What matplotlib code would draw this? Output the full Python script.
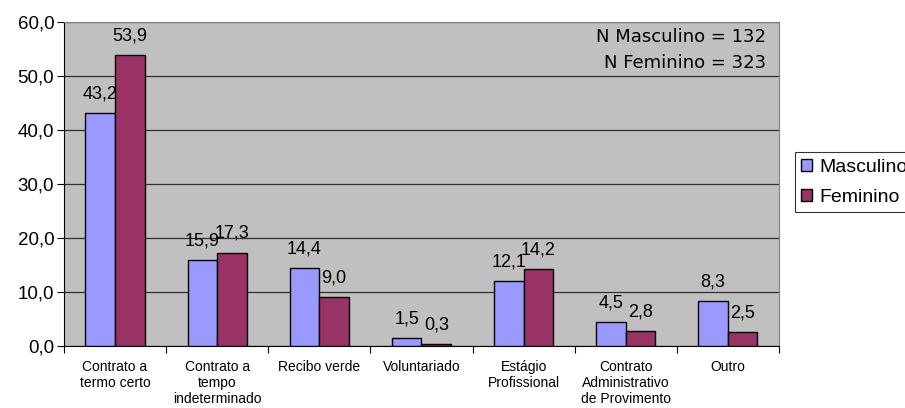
import matplotlib
matplotlib.use("Agg")
import matplotlib.pyplot as plt
import numpy as np

plt.rcParams['font.family'] = ['Liberation Sans', 'DejaVu Sans']

categories = ["Contrato a\ntermo certo", "Contrato a\ntempo\nindeterminado", "Recibo verde",
              "Voluntariado", "Estágio\nProfissional", "Contrato\nAdministrativo\nde Provimento", "Outro"]
masculino = [43.2, 15.9, 14.4, 1.5, 12.1, 4.5, 8.3]
feminino = [53.9, 17.3, 9.0, 0.3, 14.2, 2.8, 2.5]
yticks = [0, 10, 20, 30, 40, 50, 60]

fig = plt.figure(figsize=(9.05, 4.08), dpi=100)
ax = fig.add_axes([0.0707, 0.152, 0.79, 0.794])
ax.set_facecolor('#c0c0c0')

x = np.arange(len(categories))
w = 0.29
b1 = ax.bar(x - w/2, masculino, w, color='#9999ff', edgecolor='black', linewidth=1, label='Masculino', zorder=3)
b2 = ax.bar(x + w/2, feminino, w, color='#993366', edgecolor='black', linewidth=1, label='Feminino', zorder=3)

for bars, vals in ((b1, masculino), (b2, feminino)):
    for r, v in zip(bars, vals):
        ax.annotate(f"{v:.1f}".replace('.', ','), (r.get_x() + r.get_width()/2, v),
                    xytext=(0, 10.5), textcoords='offset points', ha='center', va='baseline',
                    fontsize=13, zorder=4)

ax.set_xlim(-0.5, len(categories) - 0.5)
ax.set_ylim(0, 60)
ax.set_yticks(yticks)
ax.set_yticklabels([f"{t:.1f}".replace('.', ',') for t in yticks], fontsize=13.5)
ax.yaxis.grid(True, color='#303030', linewidth=0.9, zorder=1)
ax.set_axisbelow(True)

ax.set_xticks(np.arange(len(categories) + 1) - 0.5, minor=False)
ax.set_xticklabels([''] * (len(categories) + 1))
ax.set_xticks(x, minor=True)
ax.set_xticklabels(categories, minor=True, fontsize=10, linespacing=1.2)
ax.tick_params(axis='x', which='minor', length=0, pad=10)
ax.tick_params(axis='x', which='major', length=5, direction='out', color='black')
ax.tick_params(axis='y', length=5, direction='out', color='black', pad=2)

for s in ['top', 'right']:
    ax.spines[s].set_color('#808080')
for s in ['left', 'bottom']:
    ax.spines[s].set_color('black')

ax.text(0.982, 0.982, "N Masculino = 132\nN Feminino = 323", transform=ax.transAxes,
        ha='right', va='top', fontsize=13, linespacing=1.55, family=['DejaVu Sans'])

leg = fig.legend(loc='upper left', bbox_to_anchor=(0.878, 0.627), frameon=True, fancybox=False,
                 edgecolor='black', fontsize=14, handlelength=0.55, handleheight=0.55,
                 handletextpad=0.4, borderpad=0.35, labelspacing=0.65, borderaxespad=0)
leg.get_frame().set_linewidth(0.8)

fig.savefig('out.png', dpi=100)
